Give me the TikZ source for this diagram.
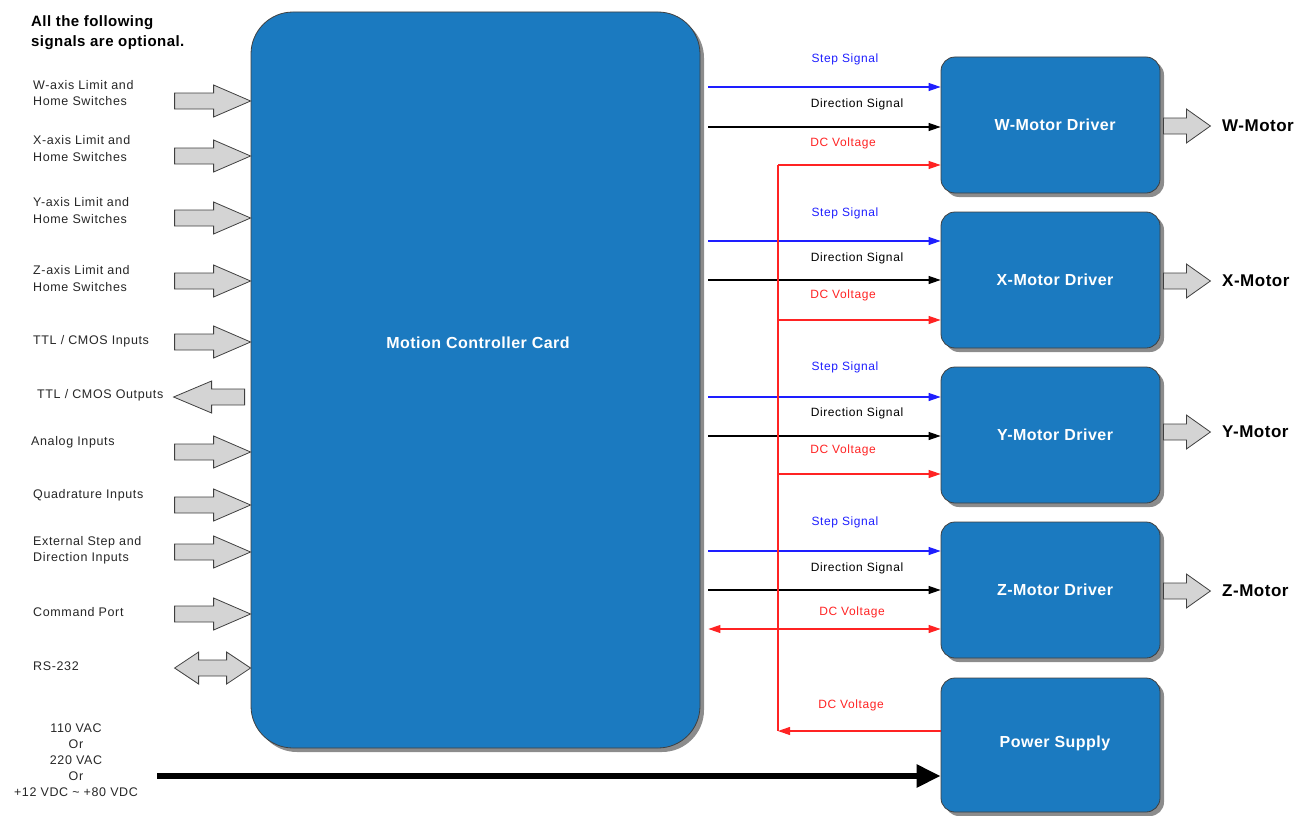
\documentclass[tikz,border=0pt]{standalone}
\usepackage{fontspec}
\setmainfont{Liberation Sans}
\newfontfamily\lsfont[LetterSpace=5]{Liberation Sans}
\newfontfamily\lsbfont[LetterSpace=3]{Liberation Sans}
\usetikzlibrary{arrows.meta,shadows,calc}
\definecolor{boxblue}{RGB}{27,122,192}
\definecolor{arrgray}{RGB}{212,212,212}
\definecolor{sigblue}{RGB}{30,30,255}
\definecolor{sigred}{RGB}{255,35,35}
\begin{document}
\begin{tikzpicture}[x=1pt,y=-1pt,
  shadowed/.style={drop shadow={shadow xshift=4pt,shadow yshift=-4pt,fill=black!45,opacity=1}},
  drvbox/.style={draw=black!75, line width=0.8pt, fill=boxblue, rounded corners=14pt, shadowed,
     text=white, font=\lsbfont\bfseries\fontsize{16}{19}\selectfont, minimum width=219pt, minimum height=136pt, inner sep=0pt},
  cardbox/.style={draw=black!75, line width=0.8pt, fill=boxblue, rounded corners=42pt, shadowed,
     minimum width=449pt, minimum height=736pt, inner sep=0pt},
  garrow/.style={draw=black!75, line width=0.8pt, fill=arrgray},
  lbl/.style={anchor=west, align=left, inner sep=0pt, font=\lsfont\fontsize{12.5}{16.5}\selectfont, text=black!85},
  siglbl/.style={inner sep=0pt, font=\lsfont\fontsize{12}{14}\selectfont},
  tip/.style={-{Triangle[length=12pt,width=8pt]}},
  stepsig/.style={draw=sigblue, line width=1.1pt, tip},
  dirsig/.style={draw=black, line width=1.1pt, tip},
  dcsig/.style={draw=sigred, line width=1.1pt},
  motorlbl/.style={anchor=west, inner sep=0pt, font=\lsbfont\bfseries\fontsize{17}{20}\selectfont},
  rarr/.pic={\draw[garrow] (-76,-8) -- (-37,-8) -- (-37,-16) -- (0,0) -- (-37,16) -- (-37,8) -- (-76,8) -- cycle;},
  larr/.pic={\draw[garrow] (-71,0) -- (-33,-16) -- (-33,-8) -- (0,-8) -- (0,8) -- (-33,8) -- (-33,16) -- cycle;},
  darr/.pic={\draw[garrow] (-76,0) -- (-52,-16) -- (-52,-8) -- (-24,-8) -- (-24,-16) -- (0,0) -- (-24,16) -- (-24,8) -- (-52,8) -- (-52,16) -- cycle;},
  marr/.pic={\draw[garrow] (0,-8) -- (23,-8) -- (23,-17) -- (47,0) -- (23,17) -- (23,8) -- (0,8) -- cycle;}
]
\useasboundingbox (0,0) rectangle (1303,816);

% main card
\node[cardbox] (card) at (475.5,380) {};
\node[text=white, font=\lsbfont\bfseries\fontsize{16}{19}\selectfont] (cardtxt) at (478,343) {Motion Controller Card};

% drivers
\node[drvbox] (wd) at (1050.5,125) {\hspace*{9pt}W-Motor Driver};
\node[drvbox] (xd) at (1050.5,280) {\hspace*{9pt}X-Motor Driver};
\node[drvbox] (yd) at (1050.5,435) {\hspace*{9pt}Y-Motor Driver};
\node[drvbox] (zd) at (1050.5,590) {\hspace*{9pt}Z-Motor Driver};
\node[drvbox, minimum height=134pt] (ps) at (1050.5,745) {\hspace*{9pt}\raisebox{6pt}{Power Supply}};

% heading
\node[anchor=west, align=left, inner sep=0pt, font=\lsbfont\bfseries\fontsize{15}{20}\selectfont] (head) at (31,33) {All the following\\signals are optional.};

% left labels
\node[lbl] (l1) at (33,93) {W-axis Limit and\\Home Switches};
\node[lbl] (l2) at (33,148.5) {X-axis Limit and\\Home Switches};
\node[lbl] (l3) at (33,210.5) {Y-axis Limit and\\Home Switches};
\node[lbl] (l4) at (33,278.5) {Z-axis Limit and\\Home Switches};
\node[lbl] (l5) at (33,341) {TTL / CMOS Inputs};
\node[lbl] (l6) at (37,395) {TTL / CMOS Outputs};
\node[lbl] (l7) at (31,442) {Analog Inputs};
\node[lbl] (l8) at (33,495) {Quadrature Inputs};
\node[lbl] (l9) at (33,550.5) {External Step and\\Direction Inputs};
\node[lbl] (l10) at (33,612) {Command Port};
\node[lbl] (l11) at (33,666) {RS-232};

% left gray arrows
\pic at (card.west |- 0,101) {rarr};
\pic at (card.west |- 0,156) {rarr};
\pic at (card.west |- 0,218) {rarr};
\pic at (card.west |- 0,281) {rarr};
\pic at (card.west |- 0,342) {rarr};
\pic at ([xshift=-6pt]card.west |- 0,397) {larr};
\pic at (card.west |- 0,452) {rarr};
\pic at (card.west |- 0,505) {rarr};
\pic at (card.west |- 0,552) {rarr};
\pic at (card.west |- 0,614) {rarr};
\pic at (card.west |- 0,668) {darr};

% power input
\node[align=center, inner sep=0pt, font=\lsfont\fontsize{12.5}{16}\selectfont, text=black!85] (pin) at (76,760) {110 VAC\\Or\\220 VAC\\Or\\+12 VDC \textasciitilde{} +80 VDC};
\coordinate (pstart) at (157,776);
\draw[line width=5.5pt, -{Triangle[length=24pt,width=22pt]}] (pstart) -- (ps.west |- 0,776);

% signal lines
\foreach \d/\y in {wd/87, xd/241, yd/397, zd/551}{
  \draw[stepsig] ([xshift=8pt]card.east |- 0,\y) -- (\d.west |- 0,\y);
}
\foreach \d/\y in {wd/127, xd/280, yd/436, zd/590}{
  \draw[dirsig] ([xshift=8pt]card.east |- 0,\y) -- (\d.west |- 0,\y);
}
% red bus
\coordinate (bus) at (778,731);
\coordinate (bustop) at (778,165);
\draw[dcsig] (bustop) -- (bus);
\draw[dcsig, tip] (bustop) -- (wd.west |- bustop);
\draw[dcsig, tip] (bustop |- 0,320) -- (xd.west |- 0,320);
\draw[dcsig, tip] (bustop |- 0,474) -- (yd.west |- 0,474);
\draw[dcsig, {Triangle[length=12pt,width=8pt]}-{Triangle[length=12pt,width=8pt]}] ([xshift=8pt]card.east |- 0,629) -- (zd.west |- 0,629);
\draw[dcsig, tip] (ps.west |- bus) -- (bus);

% signal labels
\foreach \y in {59, 213, 367, 522}{
  \node[siglbl, text=sigblue] at (845,\y) {Step Signal};
}
\foreach \y in {104, 258, 413, 568}{
  \node[siglbl, text=black] at (857,\y) {Direction Signal};
}
\node[siglbl, text=sigred] (dc1) at (843,143) {DC Voltage};
\node[siglbl, text=sigred] (dc2) at (843,295) {DC Voltage};
\node[siglbl, text=sigred] (dc3) at (843,450) {DC Voltage};
\node[siglbl, text=sigred] (dc4) at (852,612) {DC Voltage};
\node[siglbl, text=sigred] (dc5) at (851,705) {DC Voltage};

% motor arrows and labels
\foreach \d/\n/\y in {wd/W/126, xd/X/281, yd/Y/432, zd/Z/591}{
  \pic at ([xshift=3pt]\d.east |- 0,\y) {marr};
  \node[motorlbl] at (1222,\y) {\n-Motor};
}
\end{tikzpicture}
\end{document}
